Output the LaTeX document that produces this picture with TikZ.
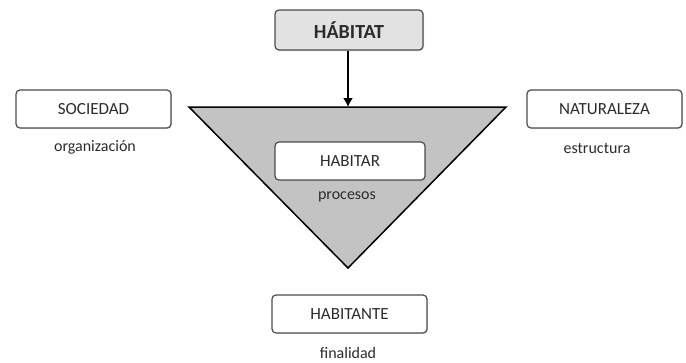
\documentclass[tikz,border=0pt]{standalone}
\usepackage{fontspec}
\setmainfont{Carlito}
\usepackage{xcolor}
\usepackage{tikz}
\usetikzlibrary{arrows.meta, shadows}

\definecolor{trigray}{HTML}{C3C3C3}
\definecolor{topgray}{HTML}{E2E2E2}
\definecolor{inkgray}{HTML}{2B2B2B}

\tikzset{
    box/.style={draw=black!70, line width=1.2pt, rounded corners=4pt, fill=white,
        minimum width=155pt, minimum height=38pt, text=inkgray,
        font=\fontsize{17}{19}\selectfont,
        drop shadow={opacity=0.25, shadow xshift=1pt, shadow yshift=-1pt}},
    note/.style={text=inkgray, font=\fontsize{16}{18}\selectfont}
}

\begin{document}
\begin{tikzpicture}[x=1pt, y=-1pt]
        \useasboundingbox (0, 0) rectangle (686, 362);
        \coordinate (tri-left)  at (189, 107);
        \coordinate (tri-right) at (506, 107);
        \coordinate (tri-apex)  at (348, 268);
        \coordinate (tri-top)   at (348, 107);
        \draw[line width=1.5pt, fill=trigray, line join=miter] (tri-left) -- (tri-right) -- (tri-apex) -- cycle;
        \node[box, fill=topgray, minimum width=148pt, minimum height=40pt,
              font=\fontsize{20}{22}\selectfont\bfseries] (habitat) at (349, 30) {HÁBITAT};
        \node[box] (sociedad)   at ( 93.5, 109) {SOCIEDAD};
        \node[box] (naturaleza) at (604.5, 109) {NATURALEZA};
        \node[box, minimum width=150pt] (habitar) at (350, 161) {HABITAR};
        \node[box] (habitante)  at (349.5, 314) {HABITANTE};
        \node[note] (organizacion) at ( 95, 147) {organización};
        \node[note] (estructura)   at (597, 148) {estructura};
        \node[note] (procesos)     at (347, 197) {procesos};
        \node[note] (finalidad)    at (348, 353) {finalidad};
        \draw[-{Latex[length=9pt, width=10pt]}, line width=1.6pt] (habitat.south -| tri-top) -- (tri-top);
    \end{tikzpicture}
\end{document}
